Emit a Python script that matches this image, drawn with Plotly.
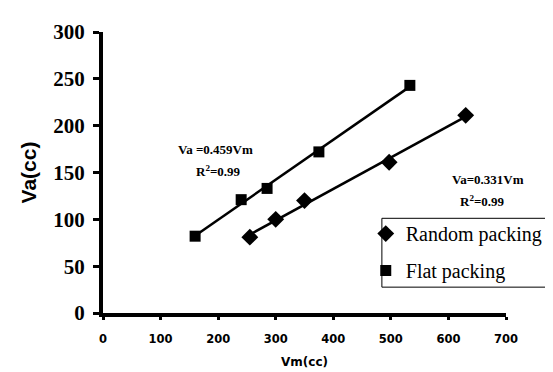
import numpy as np
import plotly.graph_objects as go

# Data
random_vm = [255, 300, 350, 497, 630]
random_va = [81, 100, 120, 161, 211]
flat_vm = [160, 240, 285, 375, 533]
flat_va = [82, 121, 133, 172, 243]

x_ticks = [0, 100, 200, 300, 400, 500, 600, 700]
y_ticks = [0, 50, 100, 150, 200, 250, 300]

def fit(x, y):
    x = np.array(x, float); y = np.array(y, float)
    m, b = np.polyfit(x, y, 1)
    xs = np.array([x.min(), x.max()])
    return xs, m * xs + b

fig = go.Figure()
fx, fy = fit(flat_vm, flat_va)
rx, ry = fit(random_vm, random_va)
fig.add_trace(go.Scatter(x=fx, y=fy, mode="lines", line=dict(color="black", width=2.5), showlegend=False, hoverinfo="skip"))
fig.add_trace(go.Scatter(x=rx, y=ry, mode="lines", line=dict(color="black", width=2.5), showlegend=False, hoverinfo="skip"))
fig.add_trace(go.Scatter(x=random_vm, y=random_va, mode="markers", name="Random packing",
                         marker=dict(symbol="diamond", size=13, color="black"), legendgroup="a"))
fig.add_trace(go.Scatter(x=flat_vm, y=flat_va, mode="markers", name="Flat packing",
                         marker=dict(symbol="square", size=11, color="black"), legendgroup="b"))

ann_font = dict(family="Liberation Serif", size=13, color="black")
fig.add_annotation(x=196, y=175, xref="x", yref="y", text="<b>Va =0.459Vm</b>", showarrow=False, font=ann_font)
fig.add_annotation(x=200, y=152, xref="x", yref="y", text="<b>R<sup>2</sup>=0.99</b>", showarrow=False, font=ann_font)
fig.add_annotation(x=669, y=143, xref="x", yref="y", text="<b>Va=0.331Vm</b>", showarrow=False, font=ann_font)
fig.add_annotation(x=660, y=120, xref="x", yref="y", text="<b>R<sup>2</sup>=0.99</b>", showarrow=False, font=ann_font)

# legend border box
fig.add_shape(type="rect", xref="paper", yref="paper", x0=0.692, x1=1.134, y0=0.092, y1=0.337,
              line=dict(color="black", width=1), fillcolor="rgba(0,0,0,0)", layer="above")

fig.update_layout(
    width=553, height=372,
    margin=dict(l=95, r=55, t=17, b=61),
    paper_bgcolor="white", plot_bgcolor="white",
    showlegend=True,
    legend=dict(x=0.652, y=0.352, xanchor="left", yanchor="top",
                borderwidth=0, bgcolor="rgba(0,0,0,0)",
                font=dict(family="Liberation Serif", size=20, color="black"),
                tracegroupgap=8, itemwidth=30),
    xaxis=dict(range=[0, 700], tickvals=x_ticks, showgrid=False, zeroline=False,
               showline=True, linecolor="black", linewidth=4,
               ticks="outside", ticklen=3, tickwidth=3, tickcolor="black", ticklabelstandoff=9,
               tickfont=dict(family="DejaVu Sans", size=11.5, color="black", weight="bold"),
               title=dict(text="<b>Vm(cc)</b>", font=dict(family="DejaVu Sans", size=12, color="black"), standoff=14)),
    yaxis=dict(range=[0, 300], tickvals=y_ticks, showgrid=False, zeroline=False,
               showline=True, linecolor="black", linewidth=4,
               ticks="outside", ticklen=6, tickwidth=3, tickcolor="black", ticklabelstandoff=4,
               tickfont=dict(family="Liberation Serif", size=21, color="black", weight="bold"),
               title=dict(text="<b>Va(cc)</b>", font=dict(family="Liberation Sans", size=21, color="black"), standoff=12)),
)
fig.write_html("out.html")
